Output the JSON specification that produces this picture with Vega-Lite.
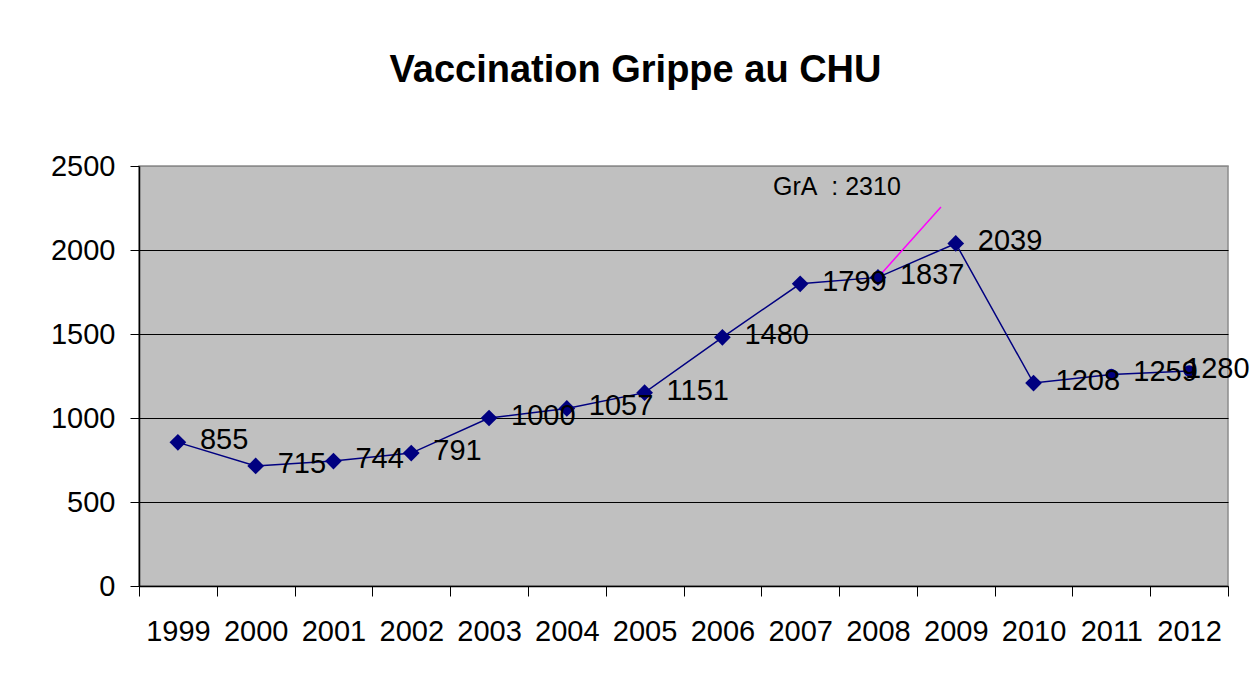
{
  "$schema": "https://vega.github.io/schema/vega-lite/v6.json",
  "width": 1089,
  "height": 420,
  "autosize": {"type": "none"},
  "padding": {"left": 139, "top": 166, "right": 32, "bottom": 104},
  "background": "white",
  "title": {
    "text": "Vaccination Grippe au CHU",
    "font": "Liberation Sans",
    "fontSize": 38,
    "fontWeight": "bold",
    "color": "black",
    "anchor": "middle",
    "frame": "group",
    "dx": -48,
    "offset": 32,
    "baseline": "alphabetic"
  },
  "config": {
    "view": {"fill": "#C0C0C0", "stroke": "#8c8c8c", "strokeWidth": 1.5},
    "font": "Liberation Sans",
    "axis": {"labelFont": "Liberation Sans", "labelColor": "black", "labelFontSize": 29, "tickColor": "black", "domainColor": "black", "title": null}
  },
  "datasets": {
    "main": [
      {"year": "1999", "value": 855},
      {"year": "2000", "value": 715},
      {"year": "2001", "value": 744},
      {"year": "2002", "value": 791},
      {"year": "2003", "value": 1000},
      {"year": "2004", "value": 1057},
      {"year": "2005", "value": 1151},
      {"year": "2006", "value": 1480},
      {"year": "2007", "value": 1799},
      {"year": "2008", "value": 1837},
      {"year": "2009", "value": 2039},
      {"year": "2010", "value": 1208},
      {"year": "2011", "value": 1259},
      {"year": "2012", "value": 1280}
    ],
    "pointer": [
      {"year": "2008", "value": 1837, "endYear": "2009", "endValue": 2256}
    ],
    "note": [
      {"year": "2007", "value": 2310, "label": "GrA\u00a0\u00a0: 2310"}
    ]
  },
  "layer": [
    {
      "data": {"name": "main"},
      "mark": {"type": "line", "color": "#000080", "strokeWidth": 1.5},
      "encoding": {
        "x": {
          "field": "year", "type": "ordinal",
          "scale": {"type": "band", "paddingInner": 0, "paddingOuter": 0},
          "axis": {"labelAngle": 0, "tickBand": "extent", "tickSize": 10, "labelPadding": 21, "grid": false, "domainWidth": 1.5}
        },
        "y": {
          "field": "value", "type": "quantitative",
          "scale": {"domain": [0, 2500], "nice": false},
          "axis": {
            "values": [0, 500, 1000, 1500, 2000, 2500],
            "format": "d",
            "tickSize": 9, "labelPadding": 15, "grid": true,
            "gridColor": {"condition": {"test": "datum.value === 2500", "value": "#8c8c8c"}, "value": "black"},
            "gridWidth": 1, "domainWidth": 1.5
          }
        }
      }
    },
    {
      "data": {"name": "pointer"},
      "mark": {"type": "rule", "color": "#FF00FF", "strokeWidth": 1.5},
      "encoding": {
        "x": {"field": "year", "type": "ordinal"},
        "x2": {"field": "endYear", "bandPosition": 0.31},
        "y": {"field": "value", "type": "quantitative"},
        "y2": {"field": "endValue"}
      }
    },
    {
      "data": {"name": "main"},
      "mark": {"type": "point", "filled": true, "color": "#000080", "opacity": 1},
      "encoding": {
        "x": {"field": "year", "type": "ordinal"},
        "y": {"field": "value", "type": "quantitative"},
        "shape": {"condition": {"test": "datum.year >= '2011'", "value": "circle"}, "value": "diamond"},
        "size": {"condition": {"test": "datum.year >= '2011'", "value": 130}, "value": 280}
      }
    },
    {
      "data": {"name": "main"},
      "transform": [{"filter": "datum.year !== '2012'"}],
      "mark": {"type": "text", "align": "left", "baseline": "middle", "dx": 22, "dy": -2, "fontSize": 29, "color": "black", "font": "Liberation Sans"},
      "encoding": {
        "x": {"field": "year", "type": "ordinal"},
        "y": {"field": "value", "type": "quantitative"},
        "text": {"field": "value", "type": "quantitative", "format": "d"}
      }
    },
    {
      "data": {"name": "main"},
      "transform": [{"filter": "datum.year === '2012'"}],
      "mark": {"type": "text", "align": "left", "baseline": "middle", "dx": -4, "dy": -2, "fontSize": 29, "color": "black", "font": "Liberation Sans"},
      "encoding": {
        "x": {"field": "year", "type": "ordinal"},
        "y": {"field": "value", "type": "quantitative"},
        "text": {"field": "value", "type": "quantitative", "format": "d"}
      }
    },
    {
      "data": {"name": "note"},
      "mark": {"type": "text", "align": "left", "baseline": "alphabetic", "dy": -3, "fontSize": 25, "color": "black", "font": "Liberation Sans"},
      "encoding": {
        "x": {"field": "year", "type": "ordinal", "bandPosition": 0.15},
        "y": {"field": "value", "type": "quantitative"},
        "text": {"field": "label"}
      }
    }
  ]
}
